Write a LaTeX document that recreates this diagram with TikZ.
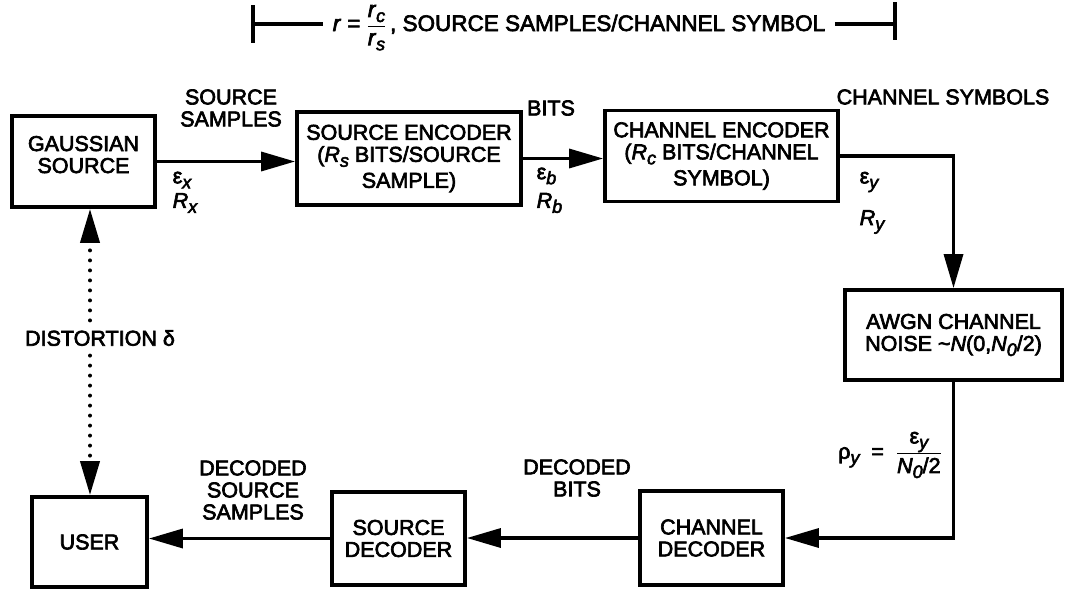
\documentclass[tikz,border=0pt]{standalone}
\usepackage{fontspec}
\setmainfont{Liberation Sans}[RawFeature={embolden=3}]
\usetikzlibrary{arrows.meta}
\newcommand{\lowsub}[1]{\raisebox{-5pt}{\fontsize{18}{18}\selectfont\itshape #1}}

\begin{document}
\begin{tikzpicture}[x=1pt, y=-1pt, line width=3.4pt,
  every node/.style={font=\fontsize{21.5}{22}\selectfont, inner sep=0pt},
  block/.style={draw, line width=3.8pt, align=center},
  arr/.style={-{Triangle[length=34pt, width=19pt]}},
  dotarr/.style={arr, line width=4pt, line cap=round, dash pattern=on 0pt off 10pt},
  note/.style={align=center}]
\useasboundingbox (0,0) rectangle (1065,592);

% top span
\node[anchor=base, inner sep=8pt, font=\fontsize{22.5}{24}\selectfont] (ratio) at (579,31)
  {\textit{r} = $\displaystyle\frac{\hbox{\textit{r}\lowsub{c}}}{\hbox{\textit{r}\lowsub{s}}}$\,, SOURCE SAMPLES/CHANNEL SYMBOL};
\coordinate (dl) at (253,24);
\coordinate (dr) at (895,24);
\draw (dl) -- (dl -| ratio.west);
\draw (dr -| ratio.east) -- (dr);
\draw ([yshift=19pt]dl) -- ([yshift=-19pt]dl);
\draw ([yshift=22pt]dr) -- ([yshift=-16pt]dr);

% blocks
\node[block, minimum width=143, minimum height=91] (src) at (83.5,161.5) {GAUSSIAN\\SOURCE\\[-8pt]\mbox{}};
\node[block, minimum width=224, minimum height=93] (senc) at (409,158.5)
  {SOURCE ENCODER\\(\textit{R}\lowsub{s} BITS/SOURCE\\[4pt]SAMPLE)};
\node[block, minimum width=233, minimum height=91] (cenc) at (721.5,156)
  {CHANNEL ENCODER\\(\textit{R}\lowsub{c} BITS/CHANNEL\\[4pt]SYMBOL)};
\node[block, minimum width=217, minimum height=90] (awgn) at (953.5,335)
  {AWGN CHANNEL\\NOISE \textasciitilde\textit{N}(0,\textit{N}\lowsub{0}/2)};
\node[block, minimum width=143, minimum height=94] (cdec) at (711.5,538) {CHANNEL\\DECODER};
\node[block, minimum width=133, minimum height=93] (sdec) at (398.5,538.5) {SOURCE\\DECODER};
\node[block, minimum width=115, minimum height=90] (user) at (89.5,542) {USER};

% connectors
\draw[arr] (src.east) -- (src.east -| senc.west);
\draw[arr] (senc.east) -- (senc.east -| cenc.west);
\draw[arr] (cenc.east) -| (awgn.north);
\draw[arr] (awgn.south) |- (cdec.east);
\draw[arr] (cdec.west) -- (cdec.west -| sdec.east);
\draw[arr] (sdec.west) -- (sdec.west -| user.east);

% labels
\node[note] (smp) at (231,108) {SOURCE\\SAMPLES};
\node[anchor=west] (epsx) at (171,180) {ε\lowsub{x}};
\node[anchor=west] (rx) at (171,203) {\textit{R}\lowsub{x}};
\node (bits) at (551,108) {BITS};
\node[anchor=west] (epsb) at (535,176) {ε\lowsub{b}};
\node[anchor=west] (rb) at (535,203) {\textit{R}\lowsub{b}};
\node (chsym) at (943,97) {CHANNEL SYMBOLS};
\node[anchor=west] (epsy) at (858,182) {ε\lowsub{y}};
\node[anchor=west] (ry) at (858,222) {\textit{R}\lowsub{y}};
\node (snr) at (890,455)
  {ρ\lowsub{y}\ \ = \ $\displaystyle\frac{\hbox{ε\lowsub{y}}}{\hbox{\textit{N}\lowsub{0}/2}}$};
\node[note] (dbits) at (577,478) {DECODED\\BITS};
\node[note] (dsmp) at (253,490) {DECODED\\SOURCE\\SAMPLES};
\node[inner sep=8pt] (dist) at (100,338) {DISTORTION δ};

% distortion
\draw[dotarr] ([xshift=-10pt]dist.north) -- ([xshift=-10pt]dist.north |- src.south);
\draw[dotarr] ([xshift=-10pt]dist.south) -- ([xshift=-10pt]dist.south |- user.north);
\end{tikzpicture}
\end{document}
